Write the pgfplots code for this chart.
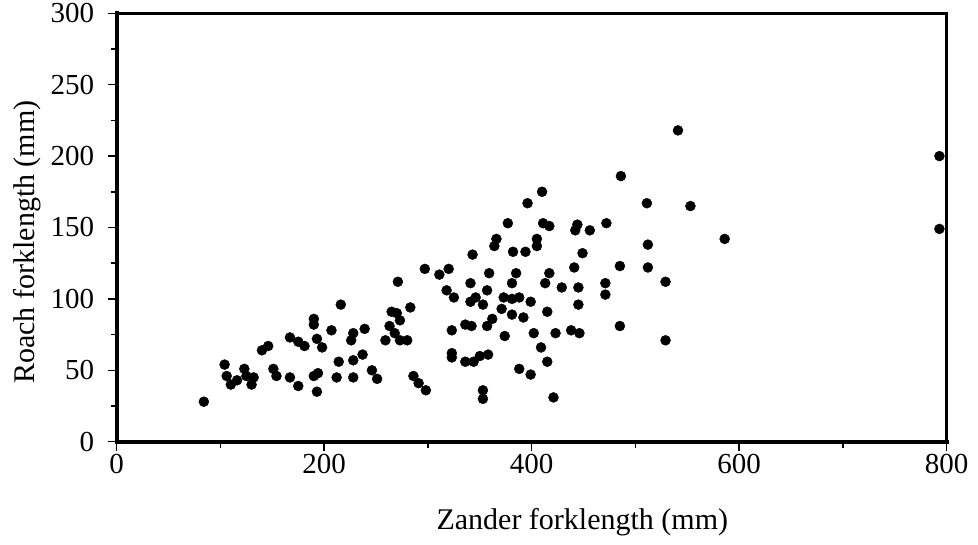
\documentclass[border=0pt]{standalone}
\usepackage{fontspec}
\setmainfont{Liberation Serif}
\usepackage{pgfplots}
\pgfplotsset{compat=1.18}
\begin{document}
\begin{tikzpicture}
\begin{axis}[
 scale only axis, width=830pt, height=428.4pt,
 xmin=0,xmax=800,ymin=0,ymax=300,
 xtick={0,200,...,800}, minor xtick={100,300,500,700},
 ytick={0,50,...,300}, minor ytick={25,75,...,275},
 tick align=outside, tick pos=left,
 major tick length=9pt, minor tick length=6pt,
 every tick/.style={black, line width=1.5pt},
 axis line style={line width=2.5pt},
 tick label style={font=\fontsize{29}{33}\selectfont},
 label style={font=\fontsize{30}{34}\selectfont},
 /pgf/number format/assume math mode=true,
 xticklabel style={yshift=0pt},
 yticklabel style={xshift=-10pt},
 xlabel={Zander forklength (mm)}, ylabel={Roach forklength (mm)},
 xlabel style={at={(axis description cs:0.561,-0.187)}, anchor=center},
 ylabel style={at={(axis description cs:-0.108,0.466)}, anchor=center},
 clip=false,
]
\addplot[only marks, mark=*, mark size=5pt, black] coordinates {
(84,28) (104,54) (106,46) (110,40) (116,43) (123,51) (125,46) (130,40) (132,45)
(140,64) (146,67) (151,51) (154,46) (167,73) (175,70) (181,67) (167,45) (175,39)
(190,86) (190,82) (193,72) (198,66) (190,46) (193,35) (194,48) (207,78) (216,96)
(214,56) (212,45) (228,76) (226,71) (228,57) (228,45) (237,61) (239,79) (246,50)
(251,44) (259,71) (263,81) (265,91) (268,76) (270,90) (271,112) (273,85) (273,71)
(280,71) (283,94) (286,46) (291,41) (298,36) (297,121) (311,117) (320,121) (318,106)
(325,101) (323,78) (323,62) (323,59) (336,82) (342,81) (341,111) (343,131) (336,56)
(344,56) (350,60) (358,61) (341,98) (346,101) (353,96) (353,36) (353,30) (357,106)
(359,118) (357,81) (362,86) (364,137) (366,142) (371,93) (381,89) (373,101) (381,100)
(388,101) (374,74) (377,153) (381,111) (385,118) (382,133) (392,87) (394,133) (396,167)
(399,98) (402,76) (405,142) (405,137) (388,51) (399,47) (409,66) (410,175) (411,153)
(417,151) (413,111) (417,118) (415,91) (415,56) (421,31) (423,76) (429,108) (438,78)
(446,76) (441,122) (442,148) (444,152) (445,108) (445,96) (449,132) (456,148) (471,111)
(471,103) (472,153) (485,123) (485,81) (486,186) (511,167) (512,138) (512,122) (529,112)
(529,71) (541,218) (553,165) (586,142) (793,200) (793,149)
};
\draw[line width=4pt, line cap=rect] (rel axis cs:0,1) -- (rel axis cs:0,0) -- (rel axis cs:1,0);
\end{axis}
\pgfresetboundingbox
\path[use as bounding box] (-116.7pt,-103.3pt) rectangle (861.3pt,441.7pt);
\end{tikzpicture}
\end{document}
